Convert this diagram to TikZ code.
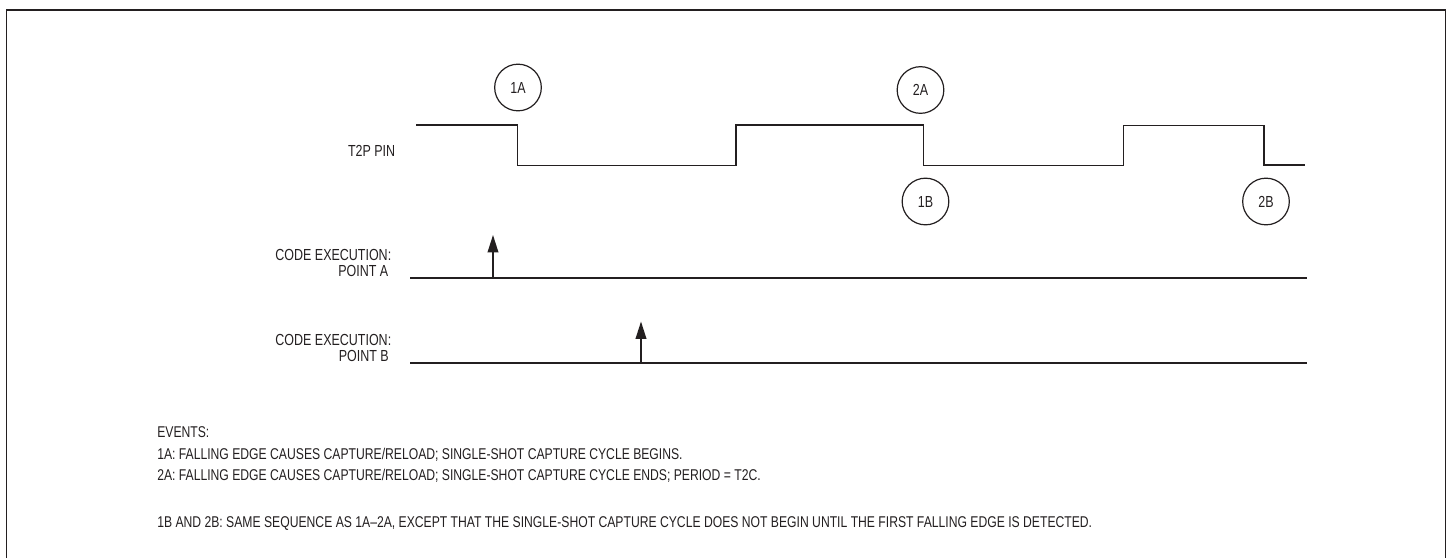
\documentclass[tikz,border=0pt]{standalone}
\usepackage{fontspec}
\setmainfont[FakeStretch=0.78]{Liberation Sans}
\usetikzlibrary{arrows.meta}
\definecolor{ink}{RGB}{35,31,32}
\tikzset{
  wave/.style={draw=ink,line width=1.1pt,line join=miter},
  frameline/.style={draw=ink,line width=1.4pt},
  evt/.style={draw=ink,line width=0.9pt,circle,minimum size=35pt,inner sep=0pt,font=\fontsize{12}{14}\selectfont,text=ink},
  lbl/.style={anchor=base east,inner sep=0pt,font=\fontsize{12}{14}\selectfont,text=ink},
  note/.style={anchor=base west,inner sep=0pt,font=\fontsize{11.7}{13}\selectfont,text=ink},
  pointer/.style={draw=ink,line width=1.1pt,-{Triangle[length=13pt,width=8pt]}},
}
\begin{document}
\begin{tikzpicture}[x=0.75pt,y=-0.75pt]
\useasboundingbox (0,0) rectangle (1447,558);
\draw[frameline] (6.5,558) -- (6.5,10) -- (1445.5,10) -- (1445.5,558);
% waveform
\draw[wave] (416,125) -- (517.5,125) -- (517.5,165.5) -- (736,165.5) -- (736,125) -- (923.5,125) -- (923.5,165.5) -- (1123.5,165.5) -- (1123.5,125.5) -- (1264,125.5) -- (1264,165) -- (1305,165);
\node[lbl] (t2p) at (395.5,156.5) {T2P PIN};
% event circles
\node[evt] (e1a) at (518,87.5) {1A};
\node[evt] (e2a) at (920.5,90) {2A};
\node[evt] (e1b) at (925.5,201.5) {1B};
\node[evt] (e2b) at (1266,201.5) {2B};
% code execution A
\node[lbl] (ca1) at (391.5,260) {CODE EXECUTION:};
\node[lbl] (ca2) at (388.5,276.5) {POINT A};
\coordinate (al) at (410,278);
\coordinate (ar) at (1307,278);
\draw[wave,line width=1pt] (al) -- (ar);
\coordinate (abase) at (493,278);
\coordinate (atip) at (493,235);
\draw[pointer] (abase) -- (atip);
% code execution B
\node[lbl] (cb1) at (391.5,345) {CODE EXECUTION:};
\node[lbl] (cb2) at (389,361.5) {POINT B};
\coordinate (bl) at (410,363);
\coordinate (br) at (1307,363);
\draw[wave,line width=1pt] (bl) -- (br);
\coordinate (bbase) at (641,363);
\coordinate (btip) at (641,321.5);
\draw[pointer] (bbase) -- (btip);
% notes
\node[note] (n0) at (157,437.3) {EVENTS:};
\node[note] (n1) at (157,459) {1A: FALLING EDGE CAUSES CAPTURE/RELOAD; SINGLE-SHOT CAPTURE CYCLE BEGINS.};
\node[note] (n2) at (157,480.7) {2A: FALLING EDGE CAUSES CAPTURE/RELOAD; SINGLE-SHOT CAPTURE CYCLE ENDS; PERIOD = T2C.};
\node[note] (n3) at (157,527.3) {1B AND 2B: SAME SEQUENCE AS 1A–2A, EXCEPT THAT THE SINGLE-SHOT CAPTURE CYCLE DOES NOT BEGIN UNTIL THE FIRST FALLING EDGE IS DETECTED.};
\end{tikzpicture}
\end{document}
